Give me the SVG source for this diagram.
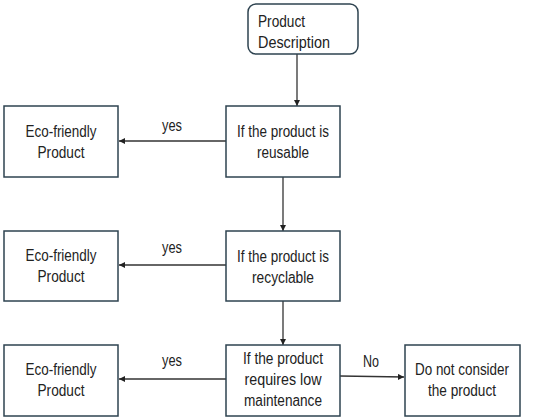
<svg xmlns="http://www.w3.org/2000/svg" width="550" height="420" viewBox="0 0 550 420">
<defs>
<marker id="ah" markerWidth="8" markerHeight="8" refX="6" refY="3" orient="auto" markerUnits="userSpaceOnUse">
<path d="M0,0 L6,3 L0,6 Z" fill="#222"/>
</marker>
<style>
.box{fill:#fff;stroke:#2e4350;stroke-width:1.5}
.t{font-family:"Liberation Sans",Arial,sans-serif;font-size:16px;fill:#222;text-anchor:middle}
.tl{font-family:"Liberation Sans",Arial,sans-serif;font-size:16px;fill:#222}
.c{fill:none;stroke:#333;stroke-width:1.3;marker-end:url(#ah)}
</style>
</defs>
<rect width="550" height="420" fill="#fff"/>
<g id="connectors">
<line class="c" x1="297" y1="54" x2="297" y2="106"/>
<line class="c" x1="226" y1="141" x2="119" y2="141"/>
<line class="c" x1="283" y1="177" x2="283" y2="231"/>
<line class="c" x1="226" y1="265" x2="119" y2="265"/>
<line class="c" x1="283" y1="301" x2="283" y2="345"/>
<line class="c" x1="226" y1="379" x2="119" y2="379"/>
<line class="c" x1="340" y1="376" x2="404" y2="377"/>
<text class="t" x="172" y="131" textLength="20" lengthAdjust="spacingAndGlyphs">yes</text>
<text class="t" x="172" y="253" textLength="20" lengthAdjust="spacingAndGlyphs">yes</text>
<text class="t" x="172" y="366" textLength="20" lengthAdjust="spacingAndGlyphs">yes</text>
<text class="t" x="371" y="367" textLength="16" lengthAdjust="spacingAndGlyphs">No</text>
</g>
<g id="start">
<rect class="box" x="248" y="4" width="110" height="50" rx="8"/>
<text class="tl" x="258" y="27" textLength="47" lengthAdjust="spacingAndGlyphs">Product</text>
<text class="tl" x="258" y="48" textLength="72" lengthAdjust="spacingAndGlyphs">Description</text>
</g>
<g id="reusable">
<rect class="box" x="226" y="106" width="114" height="71"/>
<text class="t" x="283" y="137" textLength="92" lengthAdjust="spacingAndGlyphs">If the product is</text>
<text class="t" x="283" y="158" textLength="52" lengthAdjust="spacingAndGlyphs">reusable</text>
</g>
<g id="eco1">
<rect class="box" x="4" y="106" width="114" height="71"/>
<text class="t" x="61" y="137" textLength="71" lengthAdjust="spacingAndGlyphs">Eco-friendly</text>
<text class="t" x="61" y="158" textLength="47" lengthAdjust="spacingAndGlyphs">Product</text>
</g>
<g id="recyclable">
<rect class="box" x="226" y="231" width="114" height="70"/>
<text class="t" x="283" y="262" textLength="92" lengthAdjust="spacingAndGlyphs">If the product is</text>
<text class="t" x="283" y="283" textLength="62" lengthAdjust="spacingAndGlyphs">recyclable</text>
</g>
<g id="eco2">
<rect class="box" x="4" y="231" width="114" height="70"/>
<text class="t" x="61" y="261" textLength="71" lengthAdjust="spacingAndGlyphs">Eco-friendly</text>
<text class="t" x="61" y="282" textLength="47" lengthAdjust="spacingAndGlyphs">Product</text>
</g>
<g id="maintenance">
<rect class="box" x="226" y="345" width="114" height="71"/>
<text class="t" x="283" y="364" textLength="80" lengthAdjust="spacingAndGlyphs">If the product</text>
<text class="t" x="283" y="385" textLength="77" lengthAdjust="spacingAndGlyphs">requires low</text>
<text class="t" x="283" y="406" textLength="78" lengthAdjust="spacingAndGlyphs">maintenance</text>
</g>
<g id="eco3">
<rect class="box" x="4" y="345" width="114" height="71"/>
<text class="t" x="61" y="375" textLength="71" lengthAdjust="spacingAndGlyphs">Eco-friendly</text>
<text class="t" x="61" y="396" textLength="47" lengthAdjust="spacingAndGlyphs">Product</text>
</g>
<g id="reject">
<rect class="box" x="405" y="345" width="115" height="71"/>
<text class="t" x="462" y="375" textLength="94" lengthAdjust="spacingAndGlyphs">Do not consider</text>
<text class="t" x="462" y="396" textLength="68" lengthAdjust="spacingAndGlyphs">the product</text>
</g>
</svg>
